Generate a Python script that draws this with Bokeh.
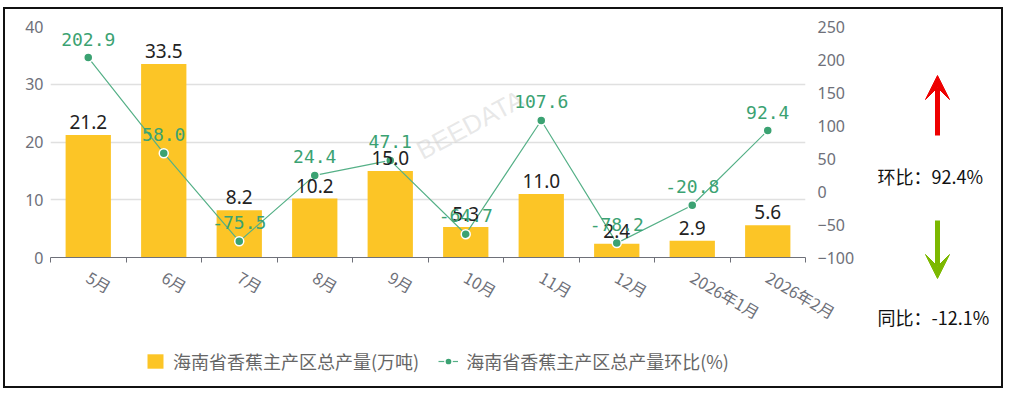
import math
from bokeh.plotting import figure
from bokeh.layouts import row, column
from bokeh.models import (Range1d, LinearAxis, FixedTicker, Legend, LegendItem, Label,
                          LabelSet, Arrow, VeeHead, ColumnDataSource)
from bokeh.core.properties import value
from bokeh.embed import file_html
from bokeh.resources import INLINE

# ---------------- data ----------------
months = ["5月", "6月", "7月", "8月", "9月", "10月", "11月", "12月", "2026年1月", "2026年2月"]
production = [21.2, 33.5, 8.2, 10.2, 15.0, 5.3, 11.0, 2.4, 2.9, 5.6]          # 万吨
mom_pct = [202.9, 58.0, -75.5, 24.4, 47.1, -64.7, 107.6, -78.2, -20.8, 92.4]   # %
left_ticks = [0, 10, 20, 30, 40]
right_ticks = [-100, -50, 0, 50, 100, 150, 200, 250]
bar_name = "海南省香蕉主产区总产量(万吨)"
line_name = "海南省香蕉主产区总产量环比(%)"
mom_text = "环比：92.4%"
yoy_text = "同比：-12.1%"
watermark = "BEEDATA"

# ---------------- styles ----------------
BAR = "#fcc526"
GREEN = "#3ba272"
LINE = "#55b087"
AXIS_TXT = "#6e7079"
CJK = "Noto Sans CJK SC"

xs = [i + 0.5 for i in range(len(months))]
src = ColumnDataSource(dict(
    x=xs, prod=production, mom=mom_pct,
    prod_lbl=[f"{v:.1f}" for v in production],
    mom_lbl=[f"{v:.1f}" for v in mom_pct],
))

# ---------------- main chart ----------------
p = figure(width=855, height=330, output_backend="svg", toolbar_location=None,
           x_range=Range1d(0, len(months)), y_range=Range1d(left_ticks[0], left_ticks[-1]),
           min_border_left=45, min_border_right=55, min_border_top=17, min_border_bottom=82)
p.outline_line_color = None
p.extra_y_ranges = {"pct": Range1d(right_ticks[0], right_ticks[-1]), "py": Range1d(257, 26)}
p.extra_x_ranges = {"px": Range1d(50, 805)}

p.yaxis.ticker = FixedTicker(ticks=left_ticks)
p.yaxis.axis_line_color = None
p.yaxis.major_tick_line_color = None
p.yaxis.major_tick_out = 0
p.yaxis.minor_tick_line_color = None
p.yaxis.major_label_text_font_size = "16px"
p.yaxis.major_label_text_color = AXIS_TXT
p.yaxis.major_label_text_font = "Noto Sans"
p.yaxis.major_label_standoff = 7

ry = LinearAxis(y_range_name="pct", ticker=FixedTicker(ticks=right_ticks),
                axis_line_color=None, major_tick_line_color=None, major_tick_out=0,
                minor_tick_line_color=None,
                major_label_text_font_size="16px", major_label_text_color=AXIS_TXT,
                major_label_text_font="Noto Sans", major_label_standoff=12)
p.add_layout(ry, "right")

p.xaxis.ticker = FixedTicker(ticks=xs, minor_ticks=list(range(len(months) + 1)))
p.xaxis.major_label_overrides = {x: m for x, m in zip(xs, months)}
p.xaxis.major_tick_line_color = None
p.xaxis.minor_tick_line_color = AXIS_TXT
p.xaxis.minor_tick_out = 5
p.xaxis.minor_tick_in = 0
p.xaxis.axis_line_color = AXIS_TXT
p.xaxis.major_label_orientation = -math.pi / 6
p.xaxis.major_label_text_font_size = "16px"
p.xaxis.major_label_text_font = CJK
p.xaxis.major_label_text_color = AXIS_TXT
p.xaxis.major_label_standoff = 12

p.xgrid.visible = False
p.ygrid.grid_line_color = "#e0e0e0"
p.ygrid.grid_line_width = 1.5

p.add_layout(Label(x=425, y=165, text=watermark, x_range_name="px", y_range_name="py",
                   angle=math.radians(28), text_font_size="26px",
                   text_font="Liberation Sans", text_color="#cccccc", text_alpha=0.45))

r_bar = p.vbar(x="x", top="prod", width=0.6, source=src, fill_color=BAR, line_color=None)
p.add_layout(LabelSet(x="x", y="prod", text="prod_lbl", source=src, text_align="center",
                      text_baseline="alphabetic", y_offset=6, text_font_size="19px",
                      text_font=value("Noto Sans"), text_color="#222222"))
r_line = p.line(x="x", y="mom", source=src, y_range_name="pct", line_color=LINE, line_width=1.2)
r_pts = p.scatter(x="x", y="mom", source=src, y_range_name="pct", size=9, fill_color=GREEN,
                  line_color="white", line_width=1.5)
p.add_layout(LabelSet(x="x", y="mom", text="mom_lbl", source=src, y_range_name="pct",
                      text_align="center", text_baseline="alphabetic", y_offset=12,
                      text_font_size="18px", text_font=value("DejaVu Sans Mono"),
                      text_color=GREEN))

# ---------------- legend strip (below the chart) ----------------
leg = figure(width=855, height=47, output_backend="svg", toolbar_location=None,
             x_range=Range1d(0, 1), y_range=Range1d(0, 1),
             x_axis_type=None, y_axis_type=None, min_border=0, outline_line_color=None)
leg.grid.visible = False
nan = float("nan")
g_bar = leg.vbar(x=[nan], top=[nan], width=0.6, fill_color=BAR, line_color=None)
g_line = leg.line(x=[nan], y=[nan], line_color=LINE, line_width=1.2)
g_pts = leg.scatter(x=[nan], y=[nan], size=9, fill_color=GREEN, line_color="white",
                    line_width=1.5)
legend = Legend(items=[LegendItem(label=bar_name, renderers=[g_bar]),
                       LegendItem(label=line_name, renderers=[g_line, g_pts])],
                location=(95, 12), orientation="horizontal",
                padding=0, margin=0, spacing=19, label_standoff=8,
                glyph_width=20, glyph_height=18, label_height=18,
                border_line_color=None, background_fill_alpha=0,
                label_text_font=CJK, label_text_font_size="18px", label_text_color="#666666")
leg.add_layout(legend)

# ---------------- side panel (month-on-month / year-on-year) ----------------
s = figure(width=141, height=377, output_backend="svg", toolbar_location=None,
           x_range=Range1d(860, 1001), y_range=Range1d(386, 9),
           x_axis_type=None, y_axis_type=None, min_border=0, outline_line_color=None)
s.grid.visible = False
s.add_layout(Arrow(x_start=937, y_start=135, x_end=937, y_end=75,
                   line_color="#ee0000", line_width=5,
                   end=VeeHead(size=24, fill_color="#ee0000", line_color="#ee0000")))
s.add_layout(Arrow(x_start=937, y_start=220, x_end=937, y_end=278,
                   line_color="#7cb800", line_width=5,
                   end=VeeHead(size=24, fill_color="#7cb800", line_color="#7cb800")))
s.add_layout(Label(x=877, y=175, text=mom_text, text_baseline="middle",
                   text_font_size="18px", text_font=CJK, text_color="#111111"))
s.add_layout(Label(x=877, y=316, text=yoy_text, text_baseline="middle",
                   text_font_size="18px", text_font=CJK, text_color="#111111"))

page = row(column(p, leg, spacing=0), s, spacing=0,
           styles={"border": "2px solid #111111", "margin": "7px 0 0 3px"})

open("out.html", "w").write(file_html(page, INLINE))
